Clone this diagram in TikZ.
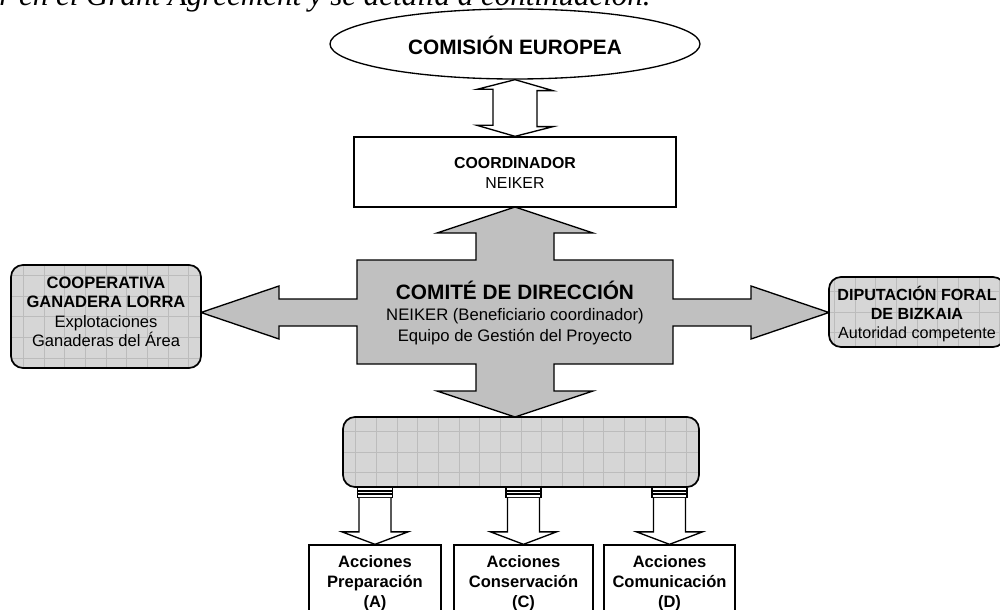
\documentclass[tikz,border=0pt]{standalone}
\usepackage{fontspec}
\setmainfont{Liberation Sans}
\newfontfamily\serifit{Liberation Serif}
\usetikzlibrary{shapes.geometric,calc}
\definecolor{silverg}{RGB}{192,192,192}
\definecolor{patfill}{RGB}{214,214,214}
\definecolor{patline}{RGB}{188,188,188}
\tikzset{
  outl/.style={draw=black, line width=1pt},
  plainbox/.style={outl, fill=white, inner sep=0pt, align=center},
  patbox/.style={draw=black, line width=1.3pt, rounded corners=9pt, fill=patfill, inner sep=0pt,
    path picture={\draw[patline, line width=0.5pt, step=15.5pt]
      (path picture bounding box.south west) grid (path picture bounding box.north east);}},
  bigarrow/.style={outl, fill=silverg, line join=miter},
  whitearrow/.style={outl, fill=white, line join=miter},
  txt/.style={inner sep=0pt, align=center},
  bigbold/.style={font=\bfseries\fontsize{15.6}{18}\selectfont},
}
\begin{document}
\begin{tikzpicture}[x=0.75pt,y=-0.75pt]
\useasboundingbox (0,0) rectangle (1000,610);

% cut-off text line of the surrounding document
\node[anchor=base west, inner sep=0pt, font=\serifit\itshape\fontsize{23.25}{28}\selectfont] (intro) at (-1,6)
  {r en el Grant Agreement y se detalla a continuación.};

% Comision Europea
\node[outl, ellipse, fill=white, minimum width=277.5pt, minimum height=52.5pt, inner sep=0pt] (ce) at (515,44) {};
\node[txt, bigbold] (cet) at (515,45) {COMISIÓN EUROPEA};

% Coordinador
\node[plainbox, minimum width=241.5pt, minimum height=52.5pt] (coord) at (515,172) {};
\node[txt, font=\fontsize{11.9}{15}\selectfont] (coordt) at (515,173) {\textbf{COORDINADOR}\\NEIKER};

% double arrow Comision <-> Coordinador
\draw[whitearrow] (ce.south) -- ++(38,11) -- ++(-16,0) -- ++(0,36) -- ++(16,0) -- (coord.north)
  -- ++(-38,-11) -- ++(16,0) -- ++(0,-36) -- ++(-16,0) -- cycle;

% big cross (Comite de direccion)
\coordinate (cc) at (515,312.5);
\begin{scope}[shift={(cc)}]
\draw[bigarrow] (0,-105.5) -- (78,-79.5) -- (39,-79.5) -- (39,-52.5) -- (158,-52.5) -- (158,-13.5)
  -- (236,-13.5) -- (236,-26.5) -- (314,0) -- (236,26.5) -- (236,13.5) -- (158,13.5)
  -- (158,51.5) -- (39,51.5) -- (39,78.5) -- (78,78.5) -- (0,104.5) -- (-78,78.5) -- (-39,78.5)
  -- (-39,51.5) -- (-158,51.5) -- (-158,13.5) -- (-236,13.5) -- (-236,26.5) -- (-314,0)
  -- (-236,-26.5) -- (-236,-13.5) -- (-158,-13.5) -- (-158,-52.5) -- (-39,-52.5) -- (-39,-79.5)
  -- (-78,-79.5) -- cycle;
\end{scope}
\node[txt, font=\fontsize{12.5}{15.5}\selectfont] (cd) at (515,313)
  {{\bfseries\fontsize{15.6}{16}\selectfont COMITÉ DE DIRECCIÓN}\\NEIKER (Beneficiario coordinador)\\Equipo de Gestión del Proyecto};

% side boxes
\node[patbox, minimum width=142.5pt, minimum height=77.25pt] (coop) at (106,316.5) {};
\node[txt, font=\fontsize{12.4}{14.6}\selectfont] (coopt) at (106,312)
  {\textbf{COOPERATIVA}\\\textbf{GANADERA LORRA}\\Explotaciones\\Ganaderas del Área};
\node[patbox, minimum width=132pt, minimum height=52.5pt] (dfb) at (917,312) {};
\node[txt, font=\fontsize{12.1}{13.9}\selectfont] (dfbt) at (917,314)
  {\textbf{DIPUTACIÓN FORAL}\\\textbf{DE BIZKAIA}\\Autoridad competente};

% bottom bar
\node[patbox, minimum width=267pt, minimum height=52.5pt] (bar) at (521,452) {};

% action boxes
\node[plainbox, minimum width=99pt, minimum height=60pt] (aa) at (375,585) {};
\node[plainbox, minimum width=104.25pt, minimum height=60pt] (ac) at (523.5,585) {};
\node[plainbox, minimum width=98.25pt, minimum height=60pt] (ad) at (669.5,585) {};
\node[txt, font=\bfseries\fontsize{12.4}{15}\selectfont] (aat) at (375,583) {Acciones\\Preparación\\(A)};
\node[txt, font=\bfseries\fontsize{12.4}{15}\selectfont] (act) at (523.5,583) {Acciones\\Conservación\\(C)};
\node[txt, font=\bfseries\fontsize{12.4}{15}\selectfont] (adt) at (669.5,583) {Acciones\\Comunicación\\(D)};

% small arrows from bar to action boxes
\foreach \b in {aa,ac,ad}{
  \coordinate (\b top) at (\b.north |- bar.south);
  \fill[white] ($(\b top)+(-17.5,0)$) rectangle ($(\b top)+(17.5,10)$);
  \foreach \yy in {3,6,9.5}{
    \draw[line width=1pt] ($(\b top)+(-17.5,\yy)$) -- ($(\b top)+(17.5,\yy)$);
  }
  \draw[line width=0.8pt] ($(\b top)+(-17.5,0)$) -- ($(\b top)+(-17.5,10)$);
  \draw[line width=0.8pt] ($(\b top)+(17.5,0)$) -- ($(\b top)+(17.5,10)$);
  \draw[whitearrow] ($(\b top)+(-16,10)$) -- ($(\b top)+(-16,44)$) -- ($(\b top)+(-33,44)$)
    -- (\b.north) -- ($(\b top)+(33,44)$) -- ($(\b top)+(16,44)$) -- ($(\b top)+(16,10)$);
}
\end{tikzpicture}
\end{document}
